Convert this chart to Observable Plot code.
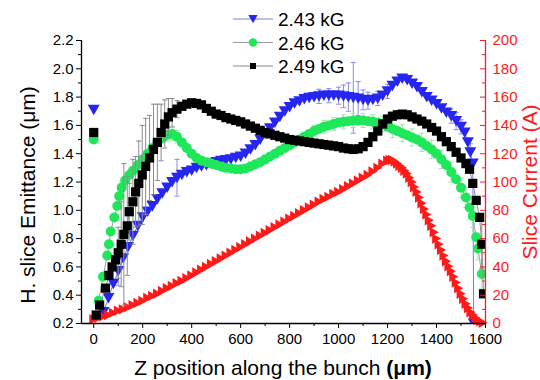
<!DOCTYPE html>
<html>
<head>
<meta charset="utf-8">
<script src="https://cdn.jsdelivr.net/npm/d3@7"></script>
<script src="https://cdn.jsdelivr.net/npm/@observablehq/plot@0.6"></script>
<style>
  html, body { margin: 0; padding: 0; background: #fff; }
  #chart svg { display: block; }
</style>
</head>
<body>
<div id="chart"></div>
<script>
// Slice current (A) along the bunch, right axis
const zRed = [0,20,40,60,80,100,120,140,160,180,200,220,240,260,280,300,320,340,360,380,
  400,420,440,460,480,500,520,540,560,580,600,620,640,660,680,700,720,740,760,780,
  800,820,840,860,880,900,920,940,960,980,1000,1020,1040,1060,1080,1100,1120,1140,1160,1180,
  1200,1210,1220,1230,1240,1250,1260,1270,1280,1290,1300,1310,1320,1330,1340,1350,1360,1370,1380,1390,
  1400,1410,1420,1430,1440,1450,1460,1470,1480,1490,1500,1510,1520,1530,1540,1550,1560,1570,1580,1590];
const currentRed = [3,4,5,6,7.5,9,10,11.5,13,14.5,
  16,18,19.5,21,23,25,26.5,28.5,30,32,
  34,36,38,40,42,44,46,48,50,52,
  54,56,58,60,62,64,66,68,70,72,
  74,76,78,80,82,84,86,88,89.5,91.5,
  93,95,97,99,101,103,105,107.5,110,113,
  115,115.5,115.5,114.5,113,111.5,110,108,106,103,
  100,96.5,93,89,85,81,77,73,69,64.5,
  60,56,52,48,44,40.5,37,33,29,25,
  21,17.5,14,11,8,6,4,2.5,1.5,0.5];

// Horizontal slice emittance (um), solenoid 2.43 kG
const zBlue = [40,60,80,100,120,140,160,180,200,220,240,260,280,300,320,340,360,380,400,420,
  440,460,480,500,520,540,560,580,600,620,640,660,680,700,720,740,760,780,800,820,
  840,860,880,900,920,940,960,980,1000,1020,1040,1060,1080,1100,1120,1140,1160,1180,1200,1220,
  1240,1260,1280,1300,1320,1340,1360,1380,1400,1420,1440,1460,1480,1500,1515,1528,1538,1548,1552];
const emitBlue = [0.28,0.38,0.48,0.57,0.66,0.74,0.82,0.89,0.95,0.99,
  1.03,1.08,1.12,1.16,1.20,1.23,1.25,1.27,1.28,1.30,
  1.31,1.32,1.33,1.34,1.35,1.355,1.36,1.37,1.38,1.40,
  1.43,1.46,1.50,1.54,1.58,1.62,1.66,1.70,1.73,1.755,
  1.77,1.785,1.795,1.80,1.805,1.81,1.81,1.81,1.81,1.805,
  1.80,1.795,1.79,1.78,1.775,1.78,1.79,1.81,1.84,1.88,
  1.91,1.93,1.92,1.895,1.87,1.835,1.80,1.775,1.75,1.72,
  1.69,1.665,1.63,1.59,1.55,1.48,1.41,1.33,0.2];
const errBlueZ = [100,340,920,960,1000,1020,1040,1060,1080,1100,1120,1160,1200,1460,1480,1500,1538];
const errBlue  = [0.1,0.13,0.05,0.05,0.06,0.08,0.1,0.25,0.12,0.07,0.06,0.05,0.05,0.05,0.06,0.05,0.06];
const startBlue = 1.71;

// 2.46 kG
const zGreen = [20,38,55,62,69,84,96,104,114,128,145,
  160,180,200,220,240,260,280,300,320,340,
  360,380,400,420,440,460,480,500,520,540,
  560,580,600,620,640,660,680,700,720,740,
  760,780,800,820,840,860,880,900,920,940,
  960,980,1000,1020,1040,1060,1080,1100,1120,1140,
  1160,1180,1200,1220,1240,1260,1280,1300,1320,1340,
  1360,1380,1400,1420,1440,1460,1480,1500,1520,
  1535,1548,1562,1569,1585];
const emitGreen = [0.36,0.53,0.68,0.76,0.85,0.95,1.03,1.10,1.16,1.21,1.25,
  1.28,1.32,1.36,1.40,1.44,1.48,1.51,1.535,1.54,1.52,
  1.48,1.44,1.40,1.37,1.35,1.34,1.33,1.32,1.31,1.30,
  1.295,1.29,1.29,1.295,1.31,1.325,1.34,1.36,1.38,1.40,
  1.42,1.44,1.46,1.48,1.50,1.52,1.54,1.56,1.575,1.59,
  1.60,1.61,1.62,1.625,1.63,1.635,1.635,1.635,1.63,1.625,
  1.62,1.61,1.59,1.575,1.56,1.545,1.53,1.515,1.50,1.48,
  1.455,1.43,1.40,1.36,1.32,1.27,1.22,1.16,1.09,
  1.02,0.96,0.81,0.73,0.55];
const errGreenZ = [300,320,340,900,940,980,1020,1060,1100,1140,1180,1220,1260,1300,1340,1380,1420,1460,1500,1520,1548,1569,1585];
const errGreen  = [0.045,0.045,0.045,0.04,0.045,0.045,0.05,0.05,0.05,0.05,0.055,0.06,0.06,0.06,0.065,0.065,0.065,0.07,0.07,0.07,0.08,0.08,0.1];
const startGreen = 1.50;

// 2.49 kG
const zBlack = [10,24,48,62,75,89,100,112,123,137,145,160,171,184,198,212,228,244,260,275,290,305,
  320,340,360,380,400,420,440,460,480,500,
  520,540,560,580,600,620,640,660,680,700,
  720,740,760,780,800,820,840,860,880,900,
  920,940,960,980,1000,1020,1040,1060,1080,1100,
  1120,1140,1160,1180,1200,1220,1240,1260,1280,1300,
  1320,1340,1360,1380,1400,1420,1440,1460,1480,1500,
  1520,1535,1548,1562,1576,1585,1592];
const emitBlack = [0.26,0.33,0.45,0.54,0.60,0.65,0.70,0.76,0.83,0.89,0.99,1.06,1.13,1.19,1.25,1.31,1.37,1.43,1.48,1.55,1.61,1.66,
  1.69,1.715,1.735,1.75,1.76,1.755,1.745,1.72,1.70,1.68,
  1.67,1.655,1.645,1.635,1.625,1.61,1.595,1.58,1.565,1.55,
  1.54,1.53,1.52,1.51,1.50,1.495,1.49,1.485,1.48,1.475,
  1.47,1.465,1.46,1.455,1.45,1.44,1.435,1.43,1.435,1.45,
  1.48,1.52,1.56,1.61,1.645,1.665,1.675,1.68,1.675,1.66,
  1.645,1.63,1.61,1.585,1.56,1.52,1.485,1.45,1.41,1.37,
  1.33,1.29,1.19,1.07,0.95,0.76,0.41];
const errBlackZ = [100,112,123,137,145,160,171,184,198,212,228,244,260,275,290,305,320,340,1585];
const errBlack  = [0.18,0.3,0.5,0.35,0.2,0.3,0.25,0.3,0.35,0.34,0.3,0.32,0.27,0.2,0.17,0.13,0.1,0.06,0.17];
const startBlack = 1.55;

// Axis ticks
const xTicks = [0,200,400,600,800,1000,1200,1400,1600];
const xMinor = [100,300,500,700,900,1100,1300,1500];
const yTicks = [0.2,0.4,0.6,0.8,1.0,1.2,1.4,1.6,1.8,2.0,2.2];
const yMinor = [0.3,0.5,0.7,0.9,1.1,1.3,1.5,1.7,1.9,2.1];
const curTicks = [0,20,40,60,80,100,120,140,160,180,200];
const curMinor = [10,30,50,70,90,110,130,150,170,190];

const FONT = "'Liberation Sans', Arial, Helvetica, sans-serif";
const RED = "#ff1a1a";
const AXRED = "#e4262b";
const W = 540, H = 380, ML = 81, MR = 55, MT = 40, MB = 57;
const frameW = W - ML - MR;

// current axis mapped onto the emittance axis
const cur2em = d3.scaleLinear([0, 200], [0.2, 2.2]);

// marker shapes
const triDown = {draw(ctx, size) { const r = Math.sqrt(size / Math.PI);
  ctx.moveTo(-r, -0.85 * r); ctx.lineTo(r, -0.85 * r); ctx.lineTo(0, 0.9 * r); ctx.closePath(); }};
const triRight = {draw(ctx, size) { const r = Math.sqrt(size / Math.PI);
  ctx.moveTo(-0.85 * r, -r); ctx.lineTo(-0.85 * r, r); ctx.lineTo(0.9 * r, 0); ctx.closePath(); }};
const capLine = {draw(ctx, size) { const r = Math.sqrt(size / Math.PI);
  ctx.moveTo(-r, 0); ctx.lineTo(r, 0); }};

const toRows = (zs, vs) => zs.map((z, i) => ({z, v: vs[i]}));
const toErr = (zs, vs, ez, ev) => {
  const m = new Map(zs.map((z, i) => [z, vs[i]]));
  return ez.map((z, i) => ({z, lo: m.get(z) - ev[i], hi: m.get(z) + ev[i]}));
};

const series = [
  {label: "2.43 kG", rows: toRows(zBlue, emitBlue), err: toErr(zBlue, emitBlue, errBlueZ, errBlue),
   start: startBlue, color: "#2626f0", line: "#7a7ae6", errColor: "#8a8ae8", symbol: triDown, r: 6, lr: 4.6},
  {label: "2.46 kG", rows: toRows(zGreen, emitGreen), err: toErr(zGreen, emitGreen, errGreenZ, errGreen),
   start: startGreen, color: "#1ee85a", line: "#9a9a9a", errColor: "#9fe6ae", symbol: d3.symbolCircle, r: 5, lr: 4.2},
  {label: "2.49 kG", rows: toRows(zBlack, emitBlack), err: toErr(zBlack, emitBlack, errBlackZ, errBlack),
   start: startBlack, color: "#000000", line: "#8c8c8c", errColor: "#8c8c8c", symbol: d3.symbolSquare, r: 5.2, lr: 3.4}
];
const redRows = zRed.map((z, i) => ({z, v: cur2em(currentRed[i])}));

const seriesMarks = s => [
  Plot.line(s.rows, {x: "z", y: "v", stroke: s.line, strokeWidth: 1}),
  Plot.ruleX(s.err, {x: "z", y1: "lo", y2: "hi", stroke: s.errColor, strokeWidth: 1}),
  Plot.dot(s.err, {x: "z", y: "hi", symbol: capLine, r: 2.6, stroke: s.errColor, strokeWidth: 1}),
  Plot.dot(s.err, {x: "z", y: "lo", symbol: capLine, r: 2.6, stroke: s.errColor, strokeWidth: 1}),
  Plot.dot(s.rows, {x: "z", y: "v", symbol: s.symbol, r: s.r, fill: s.color, stroke: "none", clip: true}),
  Plot.dot([{z: 0, v: s.start}], {x: "z", y: "v", symbol: s.symbol, r: s.r, fill: s.color, stroke: "none"})
];

const chart = Plot.plot({
  width: W, height: H,
  marginLeft: ML, marginRight: MR, marginTop: MT, marginBottom: MB,
  x: {domain: [-50, 1600], axis: null},
  y: {domain: [0.2, 2.2], axis: null},
  style: {fontFamily: FONT, fontSize: "15px", background: "#fff", color: "#000", overflow: "visible"},
  marks: [
    ...seriesMarks(series[0]),
    Plot.dot(redRows, {x: "z", y: "v", symbol: triRight, r: 5.2, fill: RED, stroke: "none"}),
    ...seriesMarks(series[1]),
    ...seriesMarks(series[2]),
    // bottom axis
    Plot.axisX(xTicks, {tickSize: 5, tickPadding: 5, label: null, fontSize: 15, tickFormat: d => String(d)}),
    Plot.axisX(xMinor, {tickSize: 3, label: null, tickFormat: () => ""}),
    // left axis
    Plot.axisY(yTicks, {anchor: "left", tickSize: 5, tickPadding: 3, label: null, fontSize: 15, tickFormat: d3.format(".1f")}),
    Plot.axisY(yMinor, {anchor: "left", tickSize: 3, label: null, tickFormat: () => ""}),
    // right axis (current)
    Plot.axisY(curTicks.map(cur2em), {anchor: "right", tickSize: 0, tickPadding: 7, label: null, fontSize: 15,
      color: RED, tickFormat: v => String(Math.round(cur2em.invert(v)))}),
    Plot.tickY(curTicks.map(cur2em), {stroke: AXRED, insetLeft: frameW - 5}),
    Plot.tickY(curMinor.map(cur2em), {stroke: AXRED, insetLeft: frameW - 3}),
    Plot.ruleX([-50], {stroke: "#000", strokeWidth: 1.3}),
    Plot.ruleY([0.2], {stroke: "#000", strokeWidth: 1.3}),
    Plot.ruleX([1600], {stroke: AXRED, strokeWidth: 1.3})
  ]
});

const svg = d3.select(chart);

// axis titles
svg.append("text")
  .attr("x", 283).attr("y", 375).attr("text-anchor", "middle")
  .attr("font-family", FONT).attr("font-size", 21).attr("fill", "#000")
  .call(t => { t.append("tspan").text("Z position along the bunch ");
               t.append("tspan").attr("font-weight", "bold").text("(μm)"); });
svg.append("text")
  .attr("transform", "translate(35,195) rotate(-90)").attr("text-anchor", "middle")
  .attr("font-family", FONT).attr("font-size", 21).attr("fill", "#000")
  .text("H. slice Emittance (μm)");
svg.append("text")
  .attr("transform", "translate(537,182) rotate(-90)").attr("text-anchor", "middle")
  .attr("font-family", FONT).attr("font-size", 21).attr("fill", RED)
  .text("Slice Current (A)");

// legend
const legend = svg.append("g");
series.forEach((s, i) => {
  const cy = 19 + i * 23.5;
  const g = legend.append("g").attr("transform", `translate(0,${cy})`);
  g.append("line").attr("x1", 233).attr("x2", 273).attr("y1", 0).attr("y2", 0)
    .attr("stroke", s.line).attr("stroke-width", 1);
  g.append("path").attr("transform", "translate(253,0)")
    .attr("d", d3.symbol(s.symbol, Math.PI * s.lr * s.lr)()).attr("fill", s.color);
  g.append("text").attr("x", 278).attr("y", 7).attr("text-anchor", "start")
    .attr("font-family", FONT).attr("font-size", 19).attr("fill", "#000").text(s.label);
});

document.getElementById("chart").append(chart);
</script>
</body>
</html>
